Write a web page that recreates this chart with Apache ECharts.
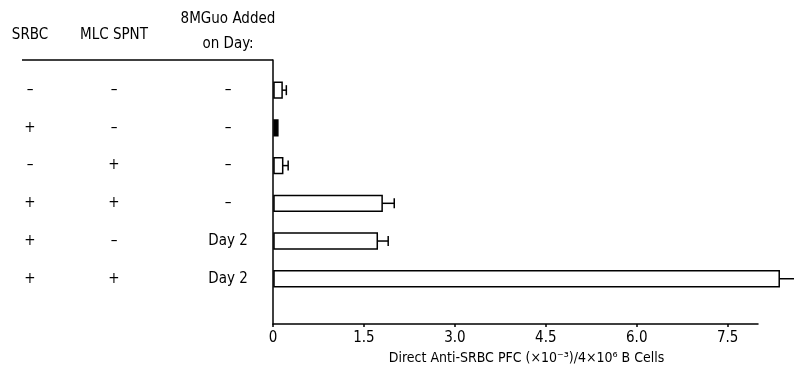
<!DOCTYPE html>
<html><head><meta charset="utf-8">
<script src="https://cdn.jsdelivr.net/npm/echarts@6/dist/echarts.min.js"></script>
<style>html,body{margin:0;padding:0;background:#fff}#c{width:794px;height:380px}</style>
</head><body><div id="c"></div>
<script>
const srbc = ['–', '+', '–', '+', '+', '+'];
const mlc = ['–', '–', '+', '+', '–', '+'];
const guo = ['–', '–', '–', '–', 'Day 2', 'Day 2'];
const pfc = [0.15, 0.08, 0.16, 1.8, 1.72, 8.35];
const sem = [0.07, 0, 0.09, 0.2, 0.18, 0.3];
const filled = [false, true, false, false, false, false];
const xTicks = [0, 1.5, 3, 4.5, 6, 7.5];
const xTickLabels = ['0', '1.5', '3.0', '4.5', '6.0', '7.5'];
const rowIdx = [0, 1, 2, 3, 4, 5];

const FONT = "'DejaVu Sans Condensed', 'Liberation Sans Narrow', sans-serif";
const chart = echarts.init(document.getElementById('c'));
const yBase = {type: 'value', inverse: true, min: -0.8, max: 6.2, position: 'left',
  splitLine: {show: false}, axisTick: {show: false}};
function colAxis(arr, colX, name, gap, lh) {
  return Object.assign({}, yBase, {
    offset: 273 - colX,
    axisLine: {show: false},
    axisLabel: {customValues: rowIdx, margin: 0, align: 'center', padding: [0, 0, 7, 0],
      formatter: v => arr[Math.round(v)], color: '#000', fontSize: 15, fontFamily: FONT},
    name: name, nameLocation: 'start', nameGap: gap,
    nameTextStyle: {color: '#000', fontSize: 15, fontFamily: FONT, align: 'center', lineHeight: lh, verticalAlign: 'bottom'}
  });
}
const option = {
  animation: false,
  grid: {left: 273, right: 36, top: 60, bottom: 56, outerBoundsMode: 'none', containLabel: false},
  xAxis: {type: 'value', min: 0, max: 8,
    axisLine: {onZero: false, lineStyle: {color: '#000', width: 1.5}},
    axisTick: {customValues: xTicks, length: 3, lineStyle: {color: '#000', width: 1.5}},
    axisLabel: {customValues: xTicks, formatter: v => xTickLabels[xTicks.indexOf(v)],
      color: '#000', fontSize: 15, fontFamily: FONT, margin: 7},
    splitLine: {show: false},
    name: 'Direct Anti-SRBC PFC (×10⁻³)/4×10⁶ B Cells', nameLocation: 'middle', nameGap: 26,
    nameTextStyle: {color: '#000', fontSize: 14, fontFamily: FONT, padding: [0, 0, 0, 22]}
  },
  yAxis: [
    Object.assign({}, yBase, {axisLine: {lineStyle: {color: '#000', width: 1.5}}, axisLabel: {show: false}}),
    colAxis(srbc, 30, 'SRBC', 17, 16),
    colAxis(mlc, 114, 'MLC SPNT', 17, 16),
    colAxis(guo, 228, '8MGuo Added\non Day:', 3, 25)
  ],
  series: [{
    type: 'custom', clip: false, yAxisIndex: 0,
    data: pfc.map((v, i) => [v, i, sem[i], filled[i] ? 1 : 0]),
    renderItem: function (params, api) {
      const v = api.value(0), i = api.value(1), e = api.value(2), f = api.value(3);
      const p0 = api.coord([0, i]);
      const p1 = api.coord([v, i]);
      const p2 = api.coord([v + e, i]);
      const h = api.size([0, 0.42])[1];
      const children = [{
        type: 'rect',
        shape: {x: p0[0] + 1, y: p0[1] - h / 2, width: p1[0] - p0[0] - 1, height: h},
        style: {fill: f ? '#000' : '#fff', stroke: '#000', lineWidth: 1.5}
      }];
      if (e > 0) {
        children.push({type: 'line', shape: {x1: p1[0], y1: p1[1], x2: p2[0], y2: p2[1]},
          style: {stroke: '#000', lineWidth: 1.5}});
        children.push({type: 'line', shape: {x1: p2[0], y1: p2[1] - 5, x2: p2[0], y2: p2[1] + 5},
          style: {stroke: '#000', lineWidth: 1.5}});
      }
      return {type: 'group', children: children};
    }
  }]
};
chart.setOption(option);
const topPt = chart.convertToPixel({xAxisIndex: 0, yAxisIndex: 0}, [0, -0.8]);
chart.setOption({graphic: [{type: 'line', shape: {x1: 22, y1: topPt[1], x2: topPt[0], y2: topPt[1]},
  style: {stroke: '#000', lineWidth: 1.5}}]});
</script></body></html>
